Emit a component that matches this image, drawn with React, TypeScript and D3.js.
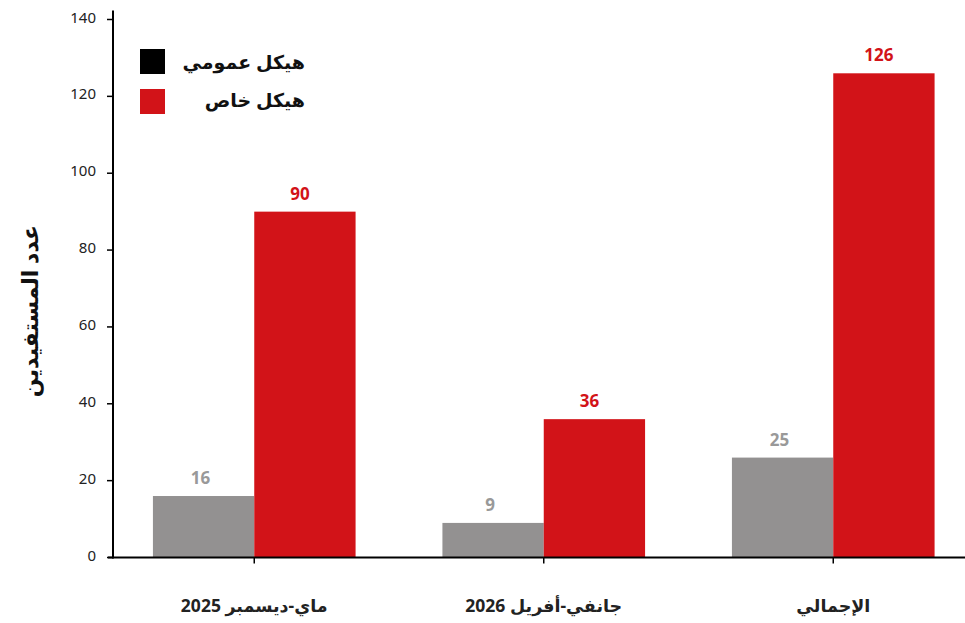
import React from "react";
import * as d3 from "d3";

const categories = ["ماي-ديسمبر 2025", "جانفي-أفريل 2026", "الإجمالي"];
const publicValues = [16, 9, 26];
const publicLabels = ["16", "9", "25"];
const privateValues = [90, 36, 126];
const privateLabels = ["90", "36", "126"];
const yTicks = [0, 20, 40, 60, 80, 100, 120, 140];
const seriesNames = ["هيكل عمومي", "هيكل خاص"];
const axisTitle = "عدد المستفيدين";

const W = 965;
const H = 623;
const GRAY = "#939191";
const RED = "#d21318";
const BLACK = "#000000";
const FONT = "'Noto Sans', 'Open Sans', 'DejaVu Sans', sans-serif";

export default function App() {
  const y = d3.scaleLinear().domain([0, 140]).range([557.5, 19.5]);
  const x = d3.scaleBand<string>().domain(categories).range([109.5, 978]).paddingInner(0).paddingOuter(0);
  const step = x.bandwidth();
  const barW = step * 0.35;
  const axisX = 113;
  const y0 = y(0);

  return (
    <svg width={W} height={H} style={{ position: "absolute", left: 0, top: 0, background: "#fff" }} fontFamily={FONT}>
      {/* bars */}
      {categories.map((c, i) => {
        const cx = (x(c) as number) + step / 2;
        return (
          <g key={c}>
            <rect x={cx - barW} y={y(publicValues[i])} width={barW} height={y0 - y(publicValues[i])} fill={GRAY} />
            <rect x={cx} y={y(privateValues[i])} width={barW} height={y0 - y(privateValues[i])} fill={RED} />
            <text x={cx - barW / 2 - 3} y={y(publicValues[i]) - 12} textAnchor="middle" fontSize={17} fontWeight="bold" fill="#999999">
              {publicLabels[i]}
            </text>
            <text x={cx + barW / 2 - 5} y={y(privateValues[i]) - 12} textAnchor="middle" fontSize={17} fontWeight="bold" fill={RED}>
              {privateLabels[i]}
            </text>
            <line x1={cx} x2={cx} y1={y0} y2={y0 + 6} stroke="#000" strokeWidth={1.5} />
            <text x={cx} y={612} textAnchor="middle" fontSize={17.5} fontWeight="bold" fill="#222" direction="rtl">
              {categories[i]}
            </text>
          </g>
        );
      })}

      {/* y axis */}
      <line x1={axisX} x2={axisX} y1={y(140) - 9} y2={y0 + 1} stroke="#000" strokeWidth={2} />
      {yTicks.map((t) => (
        <g key={t}>
          <line x1={axisX - 6} x2={axisX} y1={y(t)} y2={y(t)} stroke="#000" strokeWidth={1.5} />
          <text x={96} y={y(t) + 3} textAnchor="end" fontSize={15} fill="#222">
            {t}
          </text>
        </g>
      ))}
      {/* x axis */}
      <line x1={108} x2={W} y1={y0} y2={y0} stroke="#000" strokeWidth={2} />

      {/* axis title */}
      <text
        transform={`translate(38, 311) rotate(-90)`}
        textAnchor="middle"
        fontSize={22}
        fontWeight="bold"
        fill="#111"
        direction="rtl"
      >
        {axisTitle}
      </text>

      {/* legend */}
      {seriesNames.map((s, i) => (
        <g key={s}>
          <rect x={140} y={49 + i * 40} width={25} height={25} fill={i === 0 ? BLACK : RED} />
          <text x={305} y={69 + i * 38} textAnchor="start" direction="rtl" fontSize={19} fontWeight={600} fill="#111">
            {s}
          </text>
        </g>
      ))}
    </svg>
  );
}
